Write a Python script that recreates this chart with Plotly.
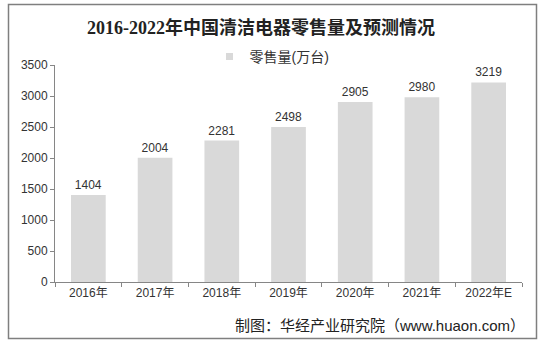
import plotly.graph_objects as go

years = ["2016年", "2017年", "2018年", "2019年", "2020年", "2021年", "2022年E"]
sales = [1404, 2004, 2281, 2498, 2905, 2980, 3219]
y_ticks = [0, 500, 1000, 1500, 2000, 2500, 3000, 3500]
series_name = "零售量(万台)"

W, H = 544, 344
L, R, T, B = 55, 22, 65, 62
pw, ph = W - L - R, H - T - B


def px(x):
    return (x - L) / pw


def py(y):
    return (H - B - y) / ph


font_sans = "Liberation Sans, Arial, Noto Sans CJK SC, sans-serif"
font_title = "Liberation Serif, Noto Sans CJK SC, serif"
bar_color = "#d9d9d9"

fig = go.Figure()
fig.add_trace(go.Bar(
    x=years, y=sales, name=series_name, showlegend=False,
    marker=dict(color=bar_color, line=dict(width=0)),
    width=0.52,
    text=[str(v) for v in sales], textposition="outside",
    textfont=dict(family=font_sans, size=12, color="#333333"),
    cliponaxis=False,
))
# small square legend key for the series
fig.add_trace(go.Scatter(
    x=[None], y=[None], mode="markers", name=series_name,
    marker=dict(symbol="square", size=7, color=bar_color),
))

fig.update_layout(
    width=W, height=H,
    margin=dict(l=L, r=R, t=T, b=B),
    paper_bgcolor="white", plot_bgcolor="white",
    showlegend=True,
    legend=dict(orientation="h", x=px(272), xanchor="center", y=py(57), yanchor="middle",
                font=dict(family=font_sans, size=14, color="#333333"),
                itemwidth=30, itemsizing="trace", bgcolor="rgba(0,0,0,0)"),
    font=dict(family=font_sans, size=12, color="#333333"),
    bargap=0.48,
    xaxis=dict(
        type="category", showline=True, linecolor="#868686", linewidth=1,
        ticks="outside", tickson="boundaries", ticklen=4, tickcolor="#868686",
        tickfont=dict(family=font_sans, size=12, color="#333333"),
        showgrid=False, zeroline=False,
    ),
    yaxis=dict(
        range=[0, 3500], tickvals=y_ticks, showline=True, linecolor="#868686", linewidth=1,
        ticks="outside", ticklen=4, tickcolor="#868686",
        tickfont=dict(family=font_sans, size=12, color="#333333"),
        showgrid=False, zeroline=False,
    ),
    shapes=[dict(type="rect", xref="paper", yref="paper",
                 x0=px(8.5), x1=px(536.5), y0=py(338.5), y1=py(4.5),
                 line=dict(color="#7f7f7f", width=1.5), fillcolor="rgba(0,0,0,0)",
                 layer="below")],
    annotations=[
        dict(text="<b>2016-2022年中国清洁电器零售量及预测情况</b>", xref="paper", yref="paper",
             x=px(261), y=py(27), xanchor="center", yanchor="middle", showarrow=False,
             font=dict(family=font_title, size=18, color="#222222")),
        dict(text="制图：华经产业研究院（www.huaon.com）", xref="paper", yref="paper",
             x=px(527), y=py(325), xanchor="right", yanchor="middle", showarrow=False,
             font=dict(family=font_sans, size=15, color="#222222")),
    ],
)

fig.write_html("out.html")
